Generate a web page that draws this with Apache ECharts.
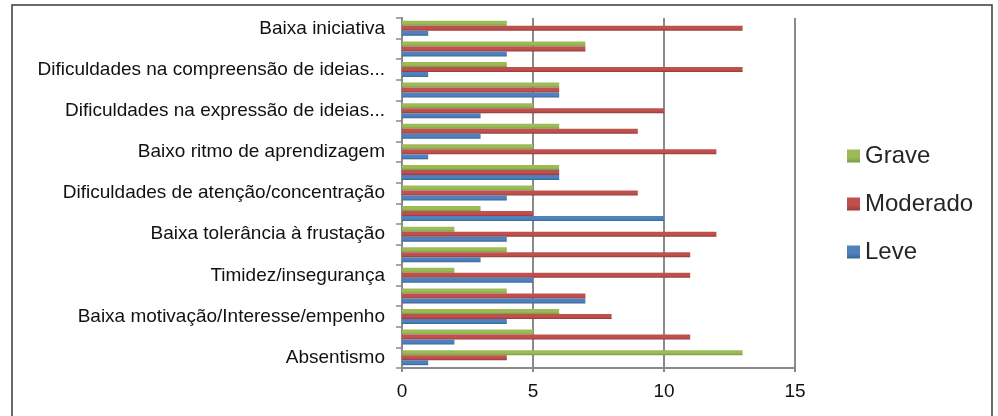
<!DOCTYPE html>
<html>
<head>
<meta charset="utf-8">
<script src="https://cdn.jsdelivr.net/npm/echarts@6/dist/echarts.min.js"></script>
<style>
  html, body { margin: 0; padding: 0; background: #ffffff; }
  #chart { width: 998px; height: 416px; }
</style>
</head>
<body>
<div id="chart"></div>
<script>
// Categories from bottom to top; unlabeled rows alternate with labeled ones.
const categories = [
  'Absentismo', '',
  'Baixa motivação/Interesse/empenho', '',
  'Timidez/insegurança', '',
  'Baixa tolerância à frustação', '',
  'Dificuldades de atenção/concentração', '',
  'Baixo ritmo de aprendizagem', '',
  'Dificuldades na expressão de ideias...', '',
  'Dificuldades na compreensão de ideias...', '',
  'Baixa iniciativa'
];

const leve     = [1, 2, 4, 7, 5, 3, 4, 10, 4, 6, 1, 3, 3, 6, 1, 4, 1];
const moderado = [4, 11, 8, 7, 11, 11, 12, 5, 9, 6, 12, 9, 10, 6, 13, 7, 13];
const grave    = [13, 5, 6, 4, 2, 4, 2, 3, 5, 6, 5, 6, 5, 6, 4, 7, 4];

const xTicks = [0, 5, 10, 15];

const FONT = '"Liberation Sans", Arial, sans-serif';

function shade(top, bottom) {
  return new echarts.graphic.LinearGradient(0, 0, 0, 1, [
    { offset: 0, color: top },
    { offset: 0.6, color: top },
    { offset: 1, color: bottom }
  ]);
}

const chart = echarts.init(document.getElementById('chart'), null, { renderer: 'canvas' });

const barBase = {
  type: 'bar',
  barWidth: 5,
  barGap: '0%',
  animation: false
};

chart.setOption({
  backgroundColor: '#ffffff',
  animation: false,
  graphic: [{
    type: 'rect',
    shape: { x: 12, y: 5, width: 980, height: 430 },
    style: { fill: 'none', stroke: '#3a3a3a', lineWidth: 1.5 },
    silent: true,
    z: 100
  }],
  grid: { left: 402, right: 203, top: 18, bottom: 48, containLabel: false },
  legend: {
    orient: 'vertical',
    left: 842,
    top: 139,
    itemWidth: 13,
    itemHeight: 13,
    itemGap: 24,
    icon: 'rect',
    data: ['Grave', 'Moderado', 'Leve'],
    textStyle: { fontFamily: FONT, fontSize: 24, color: '#262626', lineHeight: 24, padding: [0, 0, 0, 0] }
  },
  xAxis: {
    type: 'value',
    min: xTicks[0],
    max: xTicks[xTicks.length - 1],
    interval: 5,
    axisLine: { show: true, lineStyle: { color: '#8a8a8a', width: 2 } },
    axisTick: { show: true, length: 4, lineStyle: { color: '#8a8a8a', width: 2 } },
    axisLabel: { fontFamily: FONT, fontSize: 19, color: '#111', margin: 14 },
    splitLine: { show: true, lineStyle: { color: '#8a8a8a', width: 2 } }
  },
  yAxis: {
    type: 'category',
    data: categories,
    boundaryGap: true,
    axisLine: { show: true, lineStyle: { color: '#8a8a8a', width: 2 } },
    axisTick: { show: true, interval: 0, length: 6, lineStyle: { color: '#8a8a8a', width: 1.5 } },
    axisLabel: { interval: 1, fontFamily: FONT, fontSize: 19, color: '#111', margin: 17 },
    splitLine: { show: false }
  },
  // Within each row the first series sits on top: Grave, then Moderado, then Leve.
  series: [
    Object.assign({}, barBase, {
      name: 'Grave', data: grave,
      itemStyle: { color: shade('#9BBB59', '#7A9A40') }
    }),
    Object.assign({}, barBase, {
      name: 'Moderado', data: moderado,
      itemStyle: { color: shade('#C0504D', '#97393A') }
    }),
    Object.assign({}, barBase, {
      name: 'Leve', data: leve,
      itemStyle: { color: shade('#4F81BD', '#3A6497') }
    })
  ]
});
</script>
</body>
</html>
